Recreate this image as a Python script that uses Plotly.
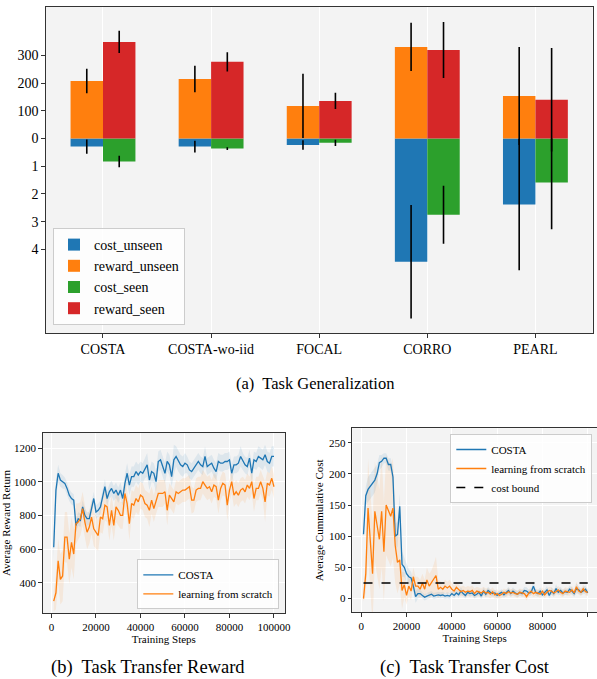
import plotly.graph_objects as go

# ---------------- data: (a) Task Generalization ----------------
methods = ["COSTA", "COSTA-wo-iid", "FOCAL", "CORRO", "PEARL"]
reward_unseen = [208, 215, 118, 331, 154]
reward_unseen_err = [44, 48, 116, 87, 177]
reward_seen = [349, 277, 136, 320, 140]
reward_seen_err = [40, 35, 29, 101, 187]
cost_unseen = [0.29, 0.29, 0.23, 4.45, 2.38]
cost_unseen_err = [0.26, 0.21, 0.17, 2.05, 2.37]
cost_seen = [0.83, 0.36, 0.155, 2.75, 1.59]
cost_seen_err = [0.21, 0.05, 0.11, 1.05, 1.68]
ytick_vals_a = [-4, -3, -2, -1, 0, 1, 2, 3]
ytick_text_a = ["4", "3", "2", "1", "0", "100", "200", "300"]

# ---------------- data: (b) / (c) training curves ----------------
steps = list(range(1000, 100001, 1000))
step_ticks = [0, 20000, 40000, 60000, 80000, 100000]

reward_costa = [610, 950, 1050, 1010, 1000, 990, 960, 920, 900, 890,
                740, 780, 770, 850, 800, 780, 780, 850, 900, 820,
                830, 850, 920, 970, 900, 940, 960, 930, 950, 920,
                950, 900, 990, 1050, 980, 1030, 1030, 1060, 1040, 1060,
                1050, 1080, 1100, 1010, 1060, 1050, 1000, 1120, 1130, 1090,
                1050, 1120, 1100, 1030, 1130, 1150, 1120, 1100, 1090, 1110,
                1100, 1070, 1060, 1080, 1100, 1120, 1100, 1090, 1150, 1090,
                1100, 1110, 1080, 1060, 1120, 1110, 1110, 1120, 1120, 1130,
                1050, 1100, 1100, 1110, 1150, 1120, 1100, 1090, 1140, 1050,
                1130, 1120, 1150, 1140, 1130, 1160, 1120, 1110, 1150, 1150]
reward_costa_std = [70, 60, 50, 40, 40, 35, 35, 35, 35, 35,
                    40, 40, 40, 40, 40, 40, 40, 40, 40, 40,
                    40, 40, 40, 45, 45, 45, 45, 45, 45, 45,
                    45, 45, 55, 60, 60, 60, 60, 60, 60, 60,
                    60, 60, 70, 60, 60, 60, 60, 60, 60, 60,
                    60, 60, 60, 60, 90, 60, 60, 60, 60, 60,
                    50, 50, 50, 50, 50, 50, 50, 50, 60, 50,
                    50, 50, 50, 50, 50, 50, 50, 50, 50, 50,
                    50, 50, 50, 50, 60, 50, 50, 50, 50, 50,
                    50, 50, 60, 60, 60, 60, 60, 60, 60, 60]
reward_scratch = [290, 340, 530, 420, 440, 670, 670, 540, 640, 570,
                  750, 760, 780, 840, 760, 700, 730, 790, 720, 700,
                  680, 790, 780, 860, 850, 740, 830, 740, 850, 830,
                  800, 800, 930, 870, 750, 870, 860, 900, 880, 920,
                  910, 870, 860, 830, 890, 840, 890, 930, 930, 930,
                  940, 830, 920, 900, 880, 940, 930, 940, 950, 950,
                  960, 970, 890, 890, 950, 960, 960, 1000, 980, 960,
                  970, 940, 980, 970, 890, 960, 990, 980, 860, 950,
                  1000, 920, 940, 920, 950, 960, 940, 980, 960, 1000,
                  900, 960, 960, 1000, 960, 880, 990, 980, 1020, 970]
reward_scratch_std = [60, 100, 130, 150, 150, 150, 150, 150, 150, 150,
                      120, 110, 100, 100, 100, 100, 100, 100, 100, 100,
                      90, 90, 90, 90, 90, 90, 90, 90, 90, 90,
                      80, 80, 80, 80, 100, 80, 80, 80, 80, 80,
                      80, 80, 80, 100, 80, 80, 80, 80, 80, 80,
                      70, 90, 70, 70, 70, 70, 70, 70, 70, 70,
                      70, 70, 80, 70, 70, 70, 70, 70, 70, 70,
                      70, 70, 70, 70, 80, 70, 70, 70, 90, 70,
                      70, 70, 70, 70, 70, 70, 70, 70, 70, 70,
                      80, 70, 70, 70, 70, 120, 70, 70, 70, 70]

cost_costa = [103, 165, 175, 180, 185, 190, 200, 218, 220, 225,
              225, 215, 215, 195, 100, 103, 148, 55, 50, 40,
              35, 33, 20, 3, 8, 8, 5, 2, 4, 5,
              7, 4, 5, 6, 5, 6, 4, 5, 4, 8,
              5, 9, 6, 12, 8, 5, 10, 8, 9, 5,
              7, 10, 4, 12, 7, 13, 10, 8, 9, 5,
              8, 10, 6, 9, 13, 8, 12, 9, 7, 10,
              8, 13, 12, 9, 10, 20, 10, 8, 12, 6,
              10, 14, 5, 12, 8, 16, 10, 13, 9, 11,
              10, 15, 12, 8, 16, 14, 10, 13, 15, 9]
cost_costa_std = [10, 15, 20, 20, 20, 20, 15, 12, 10, 8,
                  8, 10, 10, 15, 20, 20, 20, 20, 15, 15,
                  12, 10, 10, 10, 8, 6, 5, 5, 5, 5,
                  5, 5, 5, 5, 5, 5, 5, 5, 5, 5,
                  5, 5, 5, 6, 5, 5, 5, 5, 5, 5,
                  5, 5, 5, 6, 5, 6, 5, 5, 5, 5,
                  5, 5, 5, 5, 6, 5, 6, 5, 5, 5,
                  5, 6, 6, 5, 5, 8, 5, 5, 6, 5,
                  5, 6, 5, 6, 5, 7, 5, 6, 5, 5,
                  5, 6, 6, 5, 8, 6, 5, 6, 6, 5]
cost_scratch = [0, 40, 145, 95, 40, 140, 115, 95, 140, 75,
                150, 140, 132, 145, 85, 58, 62, 13, 22, 5,
                20, 12, 35, 20, 20, 15, 25, 15, 30, 20,
                25, 30, 37, 15, 18, 15, 20, 17, 20, 15,
                12, 18, 14, 11, 13, 10, 12, 11, 13, 8,
                12, 10, 9, 12, 9, 10, 7, 11, 6, 8,
                5, 7, 10, 8, 11, 9, 10, 8, 7, 10,
                9, 8, 3, 9, 12, 8, 10, 9, 7, 12,
                6, 10, 13, 12, 9, 11, 14, 10, 8, 12,
                11, 10, 14, 9, 19, 12, 10, 16, 11, 10]
cost_scratch_std = [5, 30, 80, 80, 80, 80, 80, 80, 90, 80,
                    80, 80, 80, 80, 60, 50, 40, 30, 20, 15,
                    15, 15, 15, 15, 15, 15, 15, 15, 20, 20,
                    20, 25, 30, 15, 10, 10, 10, 10, 10, 10,
                    8, 8, 8, 8, 8, 8, 8, 8, 8, 8,
                    7, 7, 7, 7, 7, 7, 7, 7, 7, 7,
                    6, 6, 6, 6, 6, 6, 6, 6, 6, 6,
                    6, 6, 6, 6, 6, 6, 6, 6, 6, 6,
                    6, 6, 6, 6, 6, 6, 6, 6, 6, 6,
                    6, 6, 6, 6, 8, 6, 6, 6, 6, 6]
cost_bound = 25

# ---------------- styling ----------------
FONT = "Liberation Serif, Times New Roman, serif"
BLUE, ORANGE, GREEN, RED = "#1f77b4", "#ff7f0e", "#2ca02c", "#d62728"
BG = "#f3f3f3"
W, H = 597, 679


def px_x(p):
    return p / W


def px_y(p):
    return 1 - p / H


fig = go.Figure()

# ---------------- (a) bars ----------------
def err(arr, scale=1.0):
    return dict(type="data", array=[v * scale for v in arr], color="black",
                thickness=1.6, width=0, visible=True)

bar_specs = [
    ("cost_unseen", [-v for v in cost_unseen], err(cost_unseen_err), BLUE, -0.3),
    ("reward_unseen", [v / 100 for v in reward_unseen], err(reward_unseen_err, 0.01), ORANGE, -0.3),
    ("cost_seen", [-v for v in cost_seen], err(cost_seen_err), GREEN, 0.0),
    ("reward_seen", [v / 100 for v in reward_seen], err(reward_seen_err, 0.01), RED, 0.0),
]
for name, ys, e, col, off in bar_specs:
    fig.add_trace(go.Bar(
        x=methods, y=ys, name=name, marker=dict(color=col, line=dict(width=0)),
        width=0.3, offset=off, error_y=e, xaxis="x", yaxis="y", legend="legend",
    ))

# ---------------- (b) reward curves ----------------
def band(xs, mean, std, col_rgba, xa, ya):
    up = [m + s for m, s in zip(mean, std)]
    lo = [m - s for m, s in zip(mean, std)]
    return go.Scatter(x=xs + xs[::-1], y=up + lo[::-1], fill="toself",
                      fillcolor=col_rgba, line=dict(width=0), hoverinfo="skip",
                      showlegend=False, xaxis=xa, yaxis=ya)

fig.add_trace(band(steps, reward_costa, reward_costa_std, "rgba(31,119,180,0.10)", "x2", "y2"))
fig.add_trace(band(steps, reward_scratch, reward_scratch_std, "rgba(255,127,14,0.10)", "x2", "y2"))
fig.add_trace(go.Scatter(x=steps, y=reward_costa, mode="lines", name="COSTA",
                         line=dict(color=BLUE, width=1.3), xaxis="x2", yaxis="y2", legend="legend2"))
fig.add_trace(go.Scatter(x=steps, y=reward_scratch, mode="lines", name="learning from scratch",
                         line=dict(color=ORANGE, width=1.3), xaxis="x2", yaxis="y2", legend="legend2"))

# ---------------- (c) cost curves ----------------
fig.add_trace(band(steps, cost_costa, cost_costa_std, "rgba(31,119,180,0.10)", "x3", "y3"))
fig.add_trace(band(steps, cost_scratch, cost_scratch_std, "rgba(255,127,14,0.10)", "x3", "y3"))
fig.add_trace(go.Scatter(x=steps, y=cost_costa, mode="lines", name="COSTA",
                         line=dict(color=BLUE, width=1.3), xaxis="x3", yaxis="y3", legend="legend3"))
fig.add_trace(go.Scatter(x=steps, y=cost_scratch, mode="lines", name="learning from scratch",
                         line=dict(color=ORANGE, width=1.3), xaxis="x3", yaxis="y3", legend="legend3"))
fig.add_trace(go.Scatter(x=[steps[0], steps[-1]], y=[cost_bound, cost_bound], mode="lines",
                         name="cost bound", line=dict(color="black", width=1.3, dash="dash"),
                         xaxis="x3", yaxis="y3", legend="legend3"))

axis_common = dict(showline=True, linecolor="#333", linewidth=1, ticks="outside",
                   ticklen=3.5, tickcolor="#333", zeroline=False, automargin=False)

small_tick = dict(size=11, color="black")
small_title = dict(size=11, color="black")

fig.update_layout(
    width=W, height=H, margin=dict(l=0, r=0, t=0, b=0, autoexpand=False),
    paper_bgcolor="white", plot_bgcolor=BG, barmode="overlay",
    font=dict(family=FONT, color="black"),
    xaxis=dict(domain=[px_x(45.7), px_x(592.7)], anchor="y", range=[-0.53, 4.53],
               type="category", showgrid=True, gridcolor="white", gridwidth=1, mirror=True,
               tickfont=dict(size=14, color="black"), **axis_common),
    yaxis=dict(domain=[px_y(333), px_y(7)], anchor="x", range=[-7.02, 4.75],
               tickvals=ytick_vals_a, ticktext=ytick_text_a, showgrid=False, mirror=True,
               tickfont=dict(size=14, color="black"), **axis_common),
    xaxis2=dict(domain=[px_x(42.7), px_x(285)], anchor="y2", range=[-3950, 104950],
                tickvals=step_ticks, tickformat="d", showgrid=True,
                gridcolor="white", mirror=True, tickfont=small_tick,
                title=dict(text="Training Steps", font=small_title, standoff=2),
                **axis_common),
    yaxis2=dict(domain=[px_y(613.3), px_y(432.7)], anchor="x2", range=[218, 1291],
                tickvals=[400, 600, 800, 1000, 1200], tickformat="d", showgrid=True,
                gridcolor="white", mirror=True, tickfont=small_tick,
                title=dict(text="Average Reward Return", font=small_title, standoff=3),
                **axis_common),
    xaxis3=dict(domain=[px_x(352.3), 1.0], anchor="y3", range=[-3950, 104085],
                tickvals=step_ticks, tickformat="d", showgrid=True,
                gridcolor="white", mirror=True, tickfont=small_tick,
                title=dict(text="Training Steps", font=small_title, standoff=2),
                **axis_common),
    yaxis3=dict(domain=[px_y(612.3), px_y(428.3)], anchor="x3", range=[-22, 273],
                tickvals=[0, 50, 100, 150, 200, 250], tickformat="d", showgrid=True,
                gridcolor="white", mirror=False, tickfont=small_tick,
                title=dict(text="Average Cummulative Cost", font=small_title, standoff=3),
                **axis_common),
    legend=dict(x=px_x(53), y=px_y(325), xanchor="left", yanchor="bottom",
                bgcolor="rgba(255,255,255,0.8)", bordercolor="#cccccc", borderwidth=1,
                font=dict(size=14, color="black"), tracegroupgap=0),
    legend2=dict(x=px_x(279.3), y=px_y(609.3), xanchor="right", yanchor="bottom",
                 bgcolor="rgba(255,255,255,0.8)", bordercolor="#cccccc", borderwidth=1,
                 font=small_tick),
    legend3=dict(x=px_x(592.3), y=px_y(434), xanchor="right", yanchor="top",
                 bgcolor="rgba(255,255,255,0.8)", bordercolor="#cccccc", borderwidth=1,
                 font=small_tick),
    annotations=[
        dict(text="(a)  Task Generalization", x=px_x(315), y=px_y(383), xref="paper",
             yref="paper", xanchor="center", yanchor="middle", showarrow=False,
             font=dict(size=16.5, color="black")),
        dict(text="(b)  Task Transfer Reward", x=px_x(148), y=px_y(667), xref="paper",
             yref="paper", xanchor="center", yanchor="middle", showarrow=False,
             font=dict(size=18.5, color="black")),
        dict(text="(c)  Task Transfer Cost", x=px_x(465), y=px_y(667), xref="paper",
             yref="paper", xanchor="center", yanchor="middle", showarrow=False,
             font=dict(size=18.5, color="black")),
    ],
)

fig.write_html("out.html", config={"displayModeBar": False},
               post_script="document.body.style.margin='0px';document.body.style.overflow='hidden';")
